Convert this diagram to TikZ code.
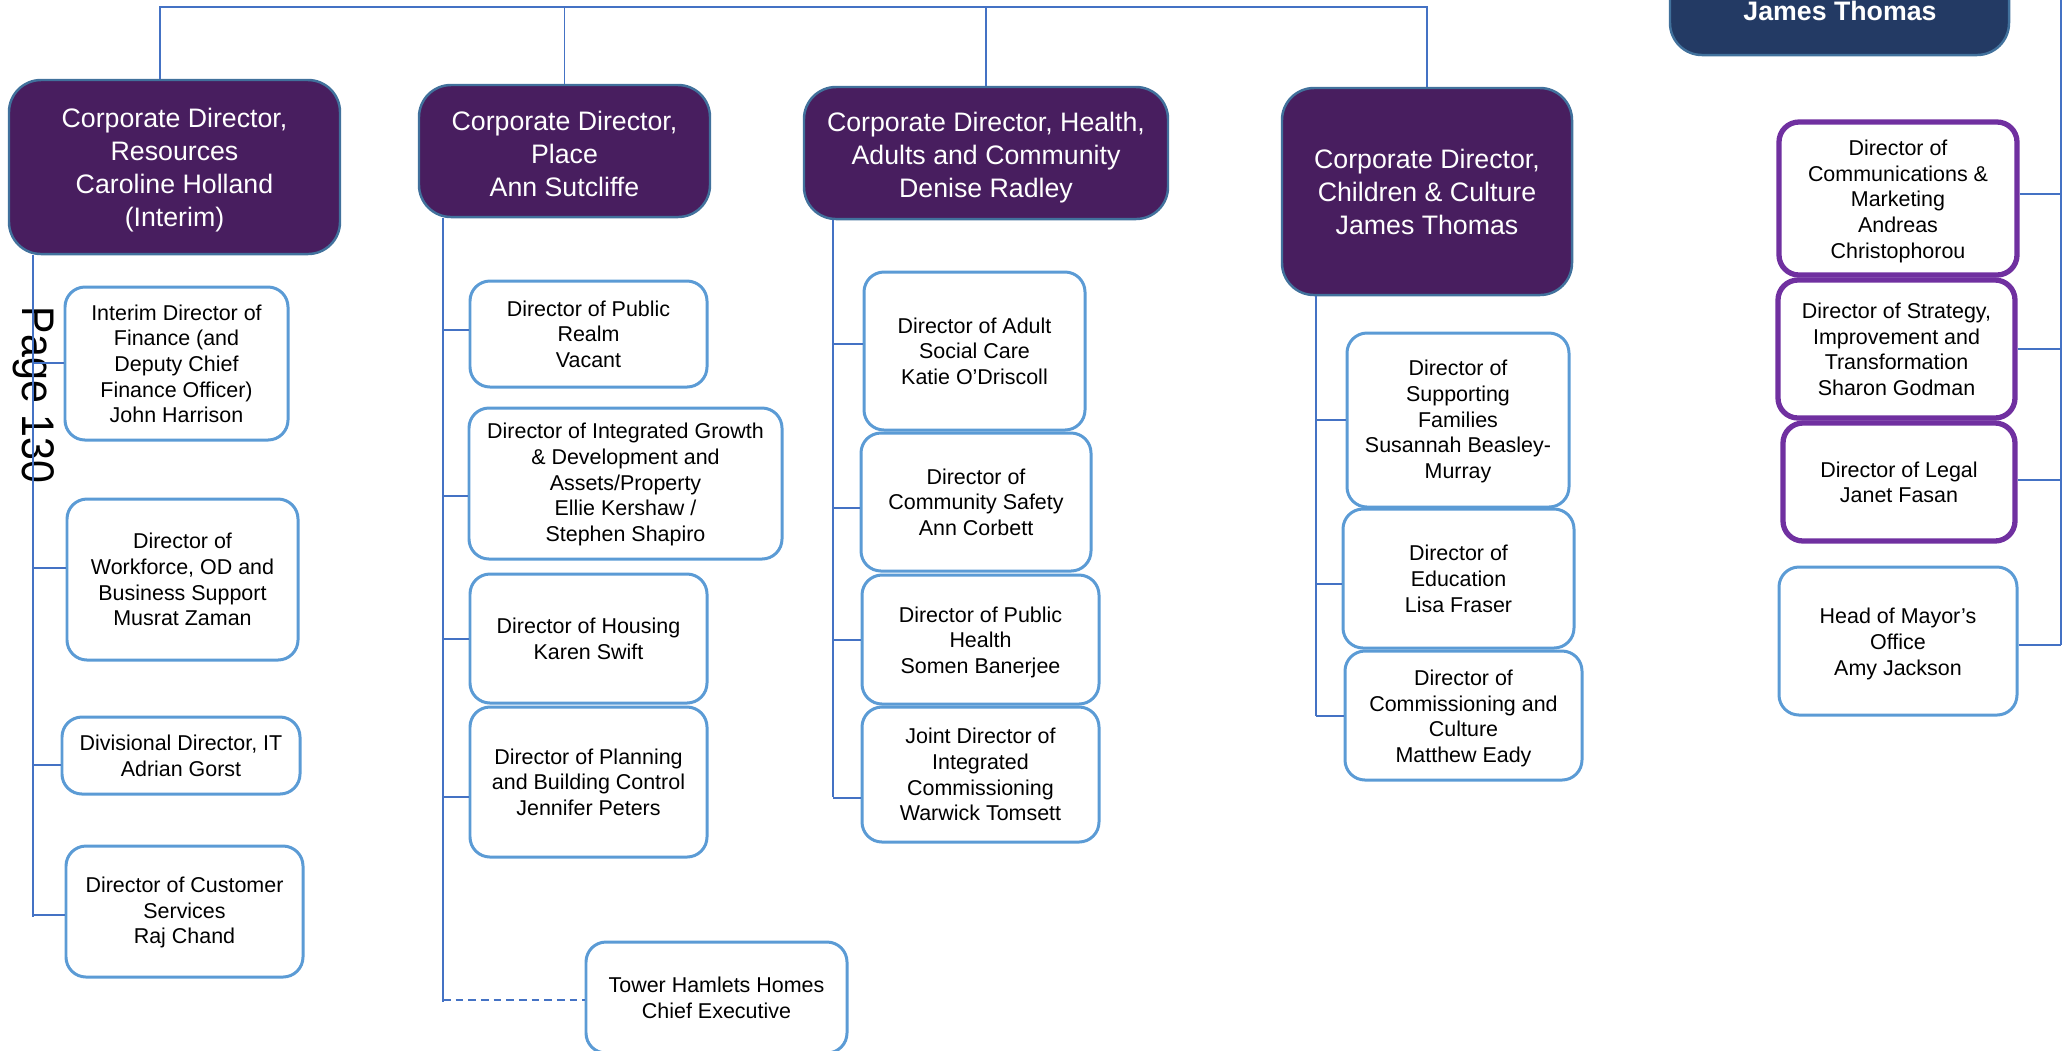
\documentclass[tikz,border=0pt]{standalone}
\usepackage{fontspec}
\setmainfont{Liberation Sans}
\usepackage{graphicx}
\definecolor{connblue}{HTML}{4472C4}
\definecolor{childblue}{HTML}{5B9BD5}
\definecolor{corpfill}{HTML}{481E5F}
\definecolor{corpedge}{HTML}{41719C}
\definecolor{keypurple}{HTML}{7030A0}
\definecolor{navyfill}{HTML}{233A64}
\tikzset{
  connline/.style={draw=connblue, line width=0.45pt},
  subbox/.style={draw=childblue, line width=0.85pt, fill=white, rounded corners=0.2cm,
    inner sep=0pt, align=center, text=black, font=\fontsize{6.1pt}{7.3pt}\selectfont},
  corpbox/.style={draw=corpedge, line width=0.7pt, fill=corpfill, rounded corners=0.32cm,
    inner sep=0pt, align=center, text=white, font=\fontsize{7.6pt}{9.4pt}\selectfont},
  keybox/.style={subbox, draw=keypurple, line width=1.5pt},
  bossbox/.style={corpbox, fill=navyfill},
}
% [text shift down, px] style, name, left, top, right, bottom, text
\newcommand\orgbox[8][0]{%
  \pgfmathsetmacro\obw{(#6-#4)*0.01}%
  \pgfmathsetmacro\obh{(#7-#5)*0.01}%
  \pgfmathsetmacro\obx{(#4+#6)/2}%
  \pgfmathsetmacro\oby{(#5+#7)/2}%
  \pgfmathsetmacro\obs{#1*0.569}%
  \node[#2, minimum width=\obw cm, minimum height=\obh cm] (#3) at (\obx,\oby)
    {\rule{0pt}{\dimexpr0.74em+\obs pt\relax}#8};%
}
\begin{document}
\begin{tikzpicture}[x=0.01cm, y=-0.01cm]
\useasboundingbox (0,0) rectangle (2069,1050);
\clip (0,0) rectangle (2069,1050);

% top-right box (cut off by the page)
\orgbox{bossbox}{boss}{1670}{-80}{2009}{55}{}
\node[inner sep=0pt, anchor=base, text=white, font=\fontsize{7.6pt}{9.4pt}\selectfont\bfseries] (bosstext) at (1840,20) {James Thomas};

% corporate directors
\orgbox[2.5]{corpbox}{res}{9}{80}{340}{254}{Corporate Director,\\Resources\\Caroline Holland\\(Interim)}
\orgbox[2.5]{corpbox}{place}{419}{85}{710}{217}{Corporate Director,\\Place\\Ann Sutcliffe}
\orgbox[4]{corpbox}{health}{804}{87}{1168}{219}{Corporate Director, Health,\\Adults and Community\\Denise Radley}
\orgbox{corpbox}{cc}{1282}{88}{1572}{295}{Corporate Director,\\Children \& Culture\\James Thomas}

% Resources
\orgbox{subbox}{fin}{65}{287}{288}{440}{Interim Director of\\Finance (and\\Deputy Chief\\Finance Officer)\\John Harrison}
\orgbox{subbox}{wf}{67}{499}{298}{660}{Director of\\Workforce, OD and\\Business Support\\Musrat Zaman}
\orgbox{subbox}{it}{62}{717}{300}{794}{Divisional Director, IT\\Adrian Gorst}
\orgbox[1]{subbox}{cust}{66}{846}{303}{977}{Director of Customer\\Services\\Raj Chand}

% Place
\orgbox{subbox}{realm}{470}{281}{707}{387}{Director of Public\\Realm\\Vacant}
\orgbox[1]{subbox}{growth}{469}{408}{782}{559}{Director of Integrated Growth\\\& Development and\\Assets/Property\\Ellie Kershaw /\\Stephen Shapiro}
\orgbox{subbox}{housing}{470}{574}{707}{703}{Director of Housing\\Karen Swift}
\orgbox{subbox}{planning}{470}{707}{707}{857}{Director of Planning\\and Building Control\\Jennifer Peters}
\orgbox{subbox}{thh}{586}{942}{847}{1053}{Tower Hamlets Homes\\Chief Executive}

% Health
\orgbox{subbox}{adult}{864}{272}{1085}{430}{Director of Adult\\Social Care\\Katie O’Driscoll}
\orgbox{subbox}{safety}{861}{433}{1091}{571}{Director of\\Community Safety\\Ann Corbett}
\orgbox[2.6]{subbox}{phealth}{862}{575}{1099}{704}{Director of Public\\Health\\Somen Banerjee}
\orgbox{subbox}{joint}{862}{707}{1099}{842}{Joint Director of\\Integrated\\Commissioning\\Warwick Tomsett}

% Children & Culture
\orgbox[1.3]{subbox}{fam}{1347}{333}{1569}{507}{Director of\\Supporting\\Families\\Susannah Beasley-\\Murray}
\orgbox{subbox}{edu}{1343}{509}{1574}{648}{Director of\\Education\\Lisa Fraser}
\orgbox[2.6]{subbox}{comm}{1345}{651}{1582}{780}{Director of\\Commissioning and\\Culture\\Matthew Eady}

% right column
\orgbox[2.6]{keybox}{comms}{1779}{122}{2017}{275}{Director of\\Communications \&\\Marketing\\Andreas\\Christophorou}
\orgbox{keybox}{strat}{1778}{280}{2015}{418}{Director of Strategy,\\Improvement and\\Transformation\\Sharon Godman}
\orgbox{keybox}{legal}{1783}{423}{2015}{541}{Director of Legal\\Janet Fasan}
\orgbox[2.6]{subbox}{mayor}{1779}{567}{2017}{715}{Head of Mayor’s\\Office\\Amy Jackson}

% page number
\node[rotate=-90, inner sep=0pt, font=\fontsize{13pt}{15pt}\selectfont] (page) at (34,395) {\scalebox{0.9}[1]{Page 130}};

% top bus
\coordinate (topL) at (160,7);
\coordinate (topR) at (1427,7);
\draw[connline] (res.north -| topL) -- (topL) -- (topR) -- (cc.north);
\draw[connline] (place.north) -- (place.north |- topL);
\draw[connline] (health.north) -- (health.north |- topL);

% Resources bus
\coordinate (resbus) at (33,917);
\draw[connline] (res.south -| resbus) -- (resbus);
\draw[connline] (33,363) -- (fin.west |- 33,363);
\draw[connline] (33,568) -- (wf.west |- 33,568);
\draw[connline] (33,765) -- (it.west |- 33,765);
\draw[connline] (33,915) -- (cust.west |- 33,915);

% Place bus
\coordinate (placebus) at (443,1002);
\draw[connline] (place.south -| placebus) -- (placebus);
\draw[connline] (443,330) -- (realm.west |- 443,330);
\draw[connline] (443,496) -- (growth.west |- 443,496);
\draw[connline] (443,639) -- (housing.west |- 443,639);
\draw[connline] (443,797) -- (planning.west |- 443,797);
\draw[connline, dash pattern=on 2.2pt off 1.4pt] (443,1000) -- (thh.west |- 443,1000);

% Health bus
\coordinate (healthbus) at (833,797);
\draw[connline] (health.south -| healthbus) -- (healthbus);
\draw[connline] (833,344) -- (adult.west |- 833,344);
\draw[connline] (833,508) -- (safety.west |- 833,508);
\draw[connline] (833,640) -- (phealth.west |- 833,640);
\draw[connline] (833,798) -- (joint.west |- 833,798);

% Children & Culture bus
\coordinate (ccbus) at (1316,716);
\draw[connline] (cc.south -| ccbus) -- (ccbus);
\draw[connline] (1316,420) -- (fam.west |- 1316,420);
\draw[connline] (1316,584) -- (edu.west |- 1316,584);
\draw[connline] (1316,716) -- (comm.west |- 1316,716);

% right bus
\coordinate (rtop) at (2061,0);
\coordinate (rbot) at (2061,645);
\draw[connline] (rtop) -- (rbot);
\draw[connline] (comms.east |- 2061,194) -- (2061,194);
\draw[connline] (strat.east |- 2061,349) -- (2061,349);
\draw[connline] (legal.east |- 2061,480) -- (2061,480);
\draw[connline] (mayor.east |- rbot) -- (rbot);
\end{tikzpicture}
\end{document}
